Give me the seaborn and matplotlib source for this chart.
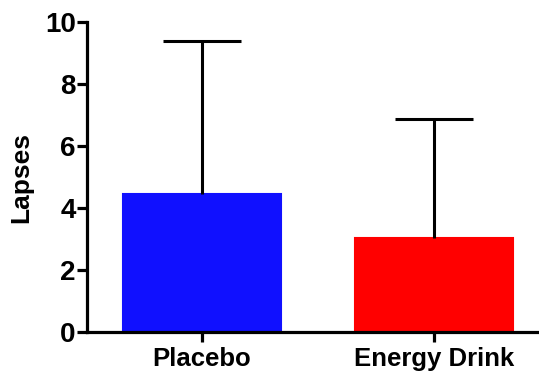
import matplotlib
matplotlib.use("Agg")
import matplotlib.pyplot as plt
import seaborn as sns
import pandas as pd

# values
groups = ["Placebo", "Energy Drink"]
means = [4.45, 3.03]
sds = [4.95, 3.85]
colors = ["#1010FF", "#FF0000"]

sns.set_theme(style="ticks")
plt.rcParams["font.family"] = ["Liberation Sans", "DejaVu Sans"]
plt.rcParams["font.weight"] = "bold"
plt.rcParams["text.color"] = "black"
plt.rcParams["axes.labelcolor"] = "black"
plt.rcParams["xtick.color"] = "black"
plt.rcParams["ytick.color"] = "black"

df = pd.DataFrame({"group": groups, "lapses": means})

fig = plt.figure(figsize=(5.39, 3.74), dpi=100)
ax = fig.add_axes([0.161, 0.112, 0.837, 0.829])

sns.barplot(data=df, x="group", y="lapses", hue="group", palette=colors,
            width=0.68, errorbar=None, legend=False, ax=ax,
            linewidth=1.5, saturation=1)
for p, c in zip(ax.patches, colors):
    p.set_edgecolor(c)

# upper-only SD bars
eb = ax.errorbar(x=range(len(groups)), y=means, yerr=[[0] * len(sds), sds],
                 fmt="none", ecolor="black", elinewidth=2.2, capsize=28,
                 capthick=2.2, zorder=3)
eb[1][0].set_visible(False)  # hide the lower caps

ax.set_xlim(-0.496, 1.448)
ax.set_ylim(0, 10)
ax.set_yticks([0, 2, 4, 6, 8, 10])
ax.set_xlabel("")
ax.set_ylabel("Lapses", fontsize=19, fontweight="bold", labelpad=8)

sns.despine(ax=ax)
for s in ["left", "bottom"]:
    ax.spines[s].set_linewidth(2.3)
    ax.spines[s].set_color("black")
ax.tick_params(axis="both", width=2.3, length=7, color="black")
ax.tick_params(axis="y", labelsize=20, pad=1)
ax.tick_params(axis="x", labelsize=18.5, pad=4)
for lab in ax.get_xticklabels() + ax.get_yticklabels():
    lab.set_fontweight("bold")

fig.savefig("out.png", dpi=100)
